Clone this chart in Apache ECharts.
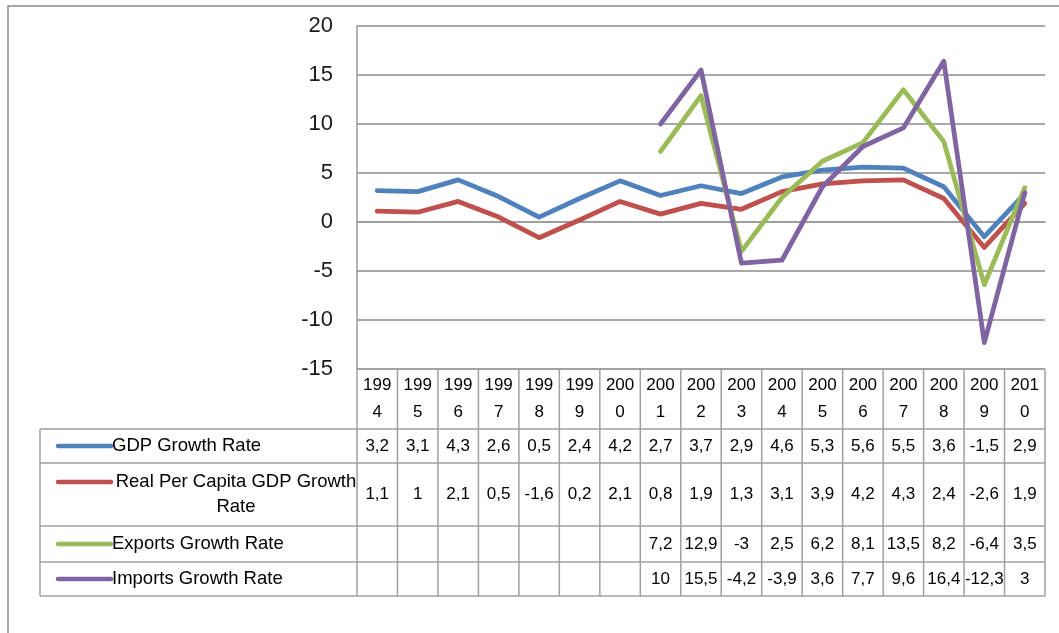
<!DOCTYPE html>
<html>
<head>
<meta charset="utf-8">
<script src="https://cdn.jsdelivr.net/npm/echarts@6/dist/echarts.min.js"></script>
<style>
html,body{margin:0;padding:0;background:#fff;}
#chart{width:1059px;height:633px;}
</style>
</head>
<body>
<div id="chart"></div>
<script>
const categories = ['1994','1995','1996','1997','1998','1999','2000','2001','2002','2003','2004','2005','2006','2007','2008','2009','2010'];
const gdpGrowth = [3.2,3.1,4.3,2.6,0.5,2.4,4.2,2.7,3.7,2.9,4.6,5.3,5.6,5.5,3.6,-1.5,2.9];
const realPerCapita = [1.1,1,2.1,0.5,-1.6,0.2,2.1,0.8,1.9,1.3,3.1,3.9,4.2,4.3,2.4,-2.6,1.9];
const exportsGrowth = [null,null,null,null,null,null,null,7.2,12.9,-3,2.5,6.2,8.1,13.5,8.2,-6.4,3.5];
const importsGrowth = [null,null,null,null,null,null,null,10,15.5,-4.2,-3.9,3.6,7.7,9.6,16.4,-12.3,3];
const seriesNames = ['GDP Growth Rate','Real Per Capita GDP Growth\nRate','Exports Growth Rate','Imports Growth Rate'];
const seriesData = [gdpGrowth, realPerCapita, exportsGrowth, importsGrowth];
const colors = ['#4F81BD','#C0504D','#9BBB59','#8064A2'];
const yTicks = {min:-15, max:20, interval:5};

const FONT = 'Liberation Sans, Arial, sans-serif';
const chart = echarts.init(document.getElementById('chart'));
const GL = 357, GT = 26, GW = 688, GH = 343;

chart.setOption({
  animation:false,
  backgroundColor:'#fff',
  grid:{left:GL, top:GT, width:GW, height:GH},
  xAxis:{type:'category', data:categories, boundaryGap:true,
    axisLine:{show:true, lineStyle:{color:'#9a9a9a', width:1.5}},
    axisTick:{show:false}, axisLabel:{show:false}, splitLine:{show:false}},
  yAxis:{type:'value', min:yTicks.min, max:yTicks.max, interval:yTicks.interval,
    axisLine:{show:true, lineStyle:{color:'#9a9a9a', width:1.5}},
    axisTick:{show:false},
    axisLabel:{fontSize:22, color:'#1a1a1a', fontFamily:FONT, margin:24},
    splitLine:{show:true, lineStyle:{color:'#8c8c8c', width:1.5}}},
  series: seriesData.map((d,i)=>({
    name:seriesNames[i], type:'line', data:d, showSymbol:false, symbol:'none',
    connectNulls:false, lineStyle:{color:colors[i], width:4.8, cap:'round', join:'round'},
    itemStyle:{color:colors[i]}, z:2+i
  }))
});

// build data table below the plot
const fmt = v => v==null ? '' : String(v).replace('.', ',');
const rowBounds = [369, 429, 463, 526, 562, 596];
const rowCenters = [446, 494, 544, 579];
const tableLeft = 40;
const colX = categories.map((c,i)=>chart.convertToPixel({xAxisIndex:0}, i));
const colW = colX.length>1 ? colX[1]-colX[0] : GW;
const tableRight = colX[colX.length-1] + colW/2;
const lineColor = '#a0a0a0';
const g = [];
rowBounds.forEach((y,k)=>{
  const x1 = k===0 ? GL : tableLeft;
  g.push({type:'line', shape:{x1:x1, y1:y, x2:tableRight, y2:y}, style:{stroke:lineColor, lineWidth:1.5}, silent:true});
});
g.push({type:'line', shape:{x1:tableLeft, y1:rowBounds[1], x2:tableLeft, y2:rowBounds[5]}, style:{stroke:lineColor, lineWidth:1.5}});
for (let i=0;i<=categories.length;i++){
  const x = colX[0] - colW/2 + i*colW;
  g.push({type:'line', shape:{x1:x, y1:rowBounds[0], x2:x, y2:rowBounds[5]}, style:{stroke:lineColor, lineWidth:1.5}});
}
categories.forEach((c,i)=>{
  g.push({type:'text', x:colX[i], y:399, style:{text:c.slice(0,3)+'\n'+c.slice(3), fontSize:17, fontFamily:FONT, fill:'#000', align:'center', verticalAlign:'middle', lineHeight:27}});
});
seriesData.forEach((d,r)=>{
  d.forEach((v,i)=>{
    g.push({type:'text', x:colX[i], y:rowCenters[r], style:{text:fmt(v), fontSize:17, fontFamily:FONT, fill:'#000', align:'center', verticalAlign:'middle'}});
  });
  const ly = r===1 ? 482 : rowCenters[r];
  g.push({type:'line', shape:{x1:58, y1:ly, x2:111, y2:ly}, style:{stroke:colors[r], lineWidth:4.5, lineCap:'round'}});
  if (r===1){
    g.push({type:'text', x:236, y:494, style:{text:seriesNames[r], fontSize:18.5, fontFamily:FONT, fill:'#000', align:'center', verticalAlign:'middle', lineHeight:25}});
  } else {
    g.push({type:'text', x:112, y:rowCenters[r], style:{text:seriesNames[r], fontSize:18.5, fontFamily:FONT, fill:'#000', align:'left', verticalAlign:'middle'}});
  }
});
g.push({type:'rect', shape:{x:8, y:6, width:1070, height:650}, style:{fill:'none', stroke:'#8a8a8a', lineWidth:1.5}, z:-1});
chart.setOption({graphic:g});
</script>
</body>
</html>
